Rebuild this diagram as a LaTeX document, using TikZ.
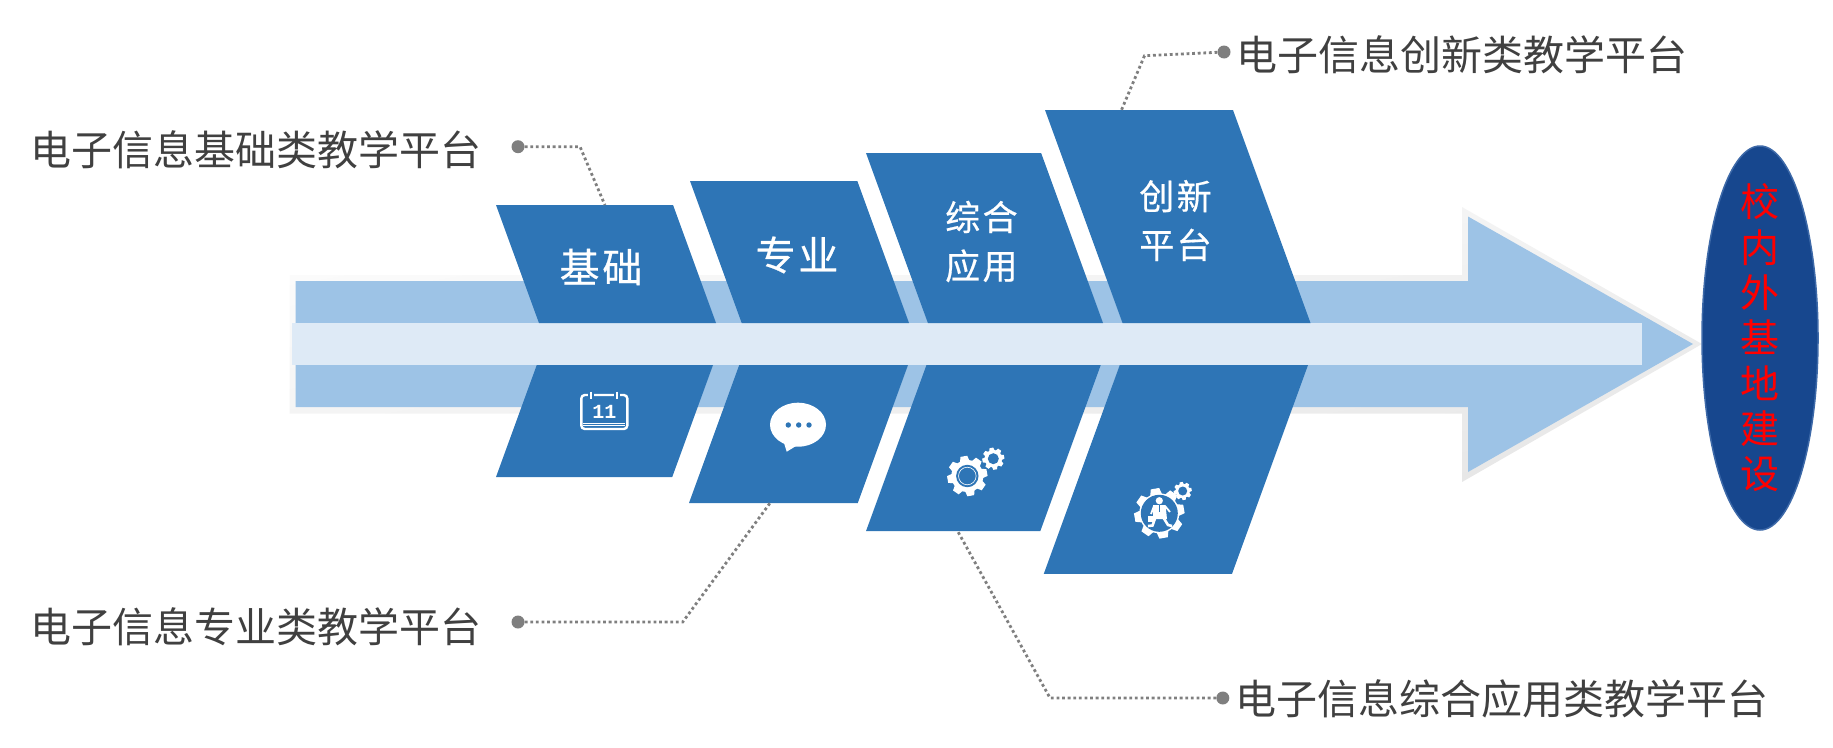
\documentclass[tikz,border=0pt]{standalone}
\usepackage{fontspec}
\setmainfont{Noto Sans CJK SC}
\newfontfamily\blockfont[LetterSpace=7,FakeBold=0.5]{Noto Sans CJK SC}
\newfontfamily\calfont{Liberation Mono}
\usepackage{tikz}
\usetikzlibrary{shapes, shapes.geometric, calc}
\definecolor{blockblue}{HTML}{2E75B6}
\definecolor{arrowblue}{HTML}{9DC3E6}
\definecolor{bandblue}{HTML}{DEEAF6}
\definecolor{ovalblue}{HTML}{17478E}
\definecolor{ovaledge}{HTML}{3D69A8}
\definecolor{labelgray}{HTML}{404040}
\definecolor{leadergray}{HTML}{7F7F7F}
\tikzstyle{platform} = [text=labelgray, inner sep=0pt, font=\fontsize{41}{48}\selectfont]
\tikzstyle{line} = [draw=leadergray, line width=2.8pt, dash pattern=on 2.8pt off 2.8pt]
\tikzstyle{leaderdot} = [circle, fill=leadergray, minimum size=13pt, inner sep=0pt]
\newcommand{\gearicon}[3]{
    \begin{scope}[shift={(#1)}, x=#2pt, y=#2pt]
        \fill[white] (0,0) circle (0.8);
        \foreach \a in {0,45,...,315}
            \fill[white, rotate=\a+10] (-0.25,0.7) -- (-0.17,1) -- (0.17,1) -- (0.25,0.7) -- cycle;
        \fill[blockblue] (0,0) circle (#3);
    \end{scope}
}
\begin{document}
\begin{tikzpicture}[x=1pt, y=-1pt,
    upblock/.style 2 args={inner sep=0pt, outer sep=0pt, minimum width=#1pt, minimum height=#2pt,
        path picture={\fill[blockblue] (path picture bounding box.north west) --
            ([xshift=-0.364*#2pt]path picture bounding box.north east) --
            (path picture bounding box.south east) --
            ([xshift=0.364*#2pt]path picture bounding box.south west) -- cycle;}},
    lowblock/.style 2 args={inner sep=0pt, outer sep=0pt, minimum width=#1pt, minimum height=#2pt,
        path picture={\fill[blockblue] ([xshift=0.364*#2pt]path picture bounding box.north west) --
            (path picture bounding box.north east) --
            ([xshift=-0.364*#2pt]path picture bounding box.south east) --
            (path picture bounding box.south west) -- cycle;}},
    bigtext/.style={text=white, align=center, inner sep=0pt, font=\blockfont\fontsize{40}{48}\selectfont},
    smalltext/.style={text=white, align=center, inner sep=0pt, font=\blockfont\fontsize{35}{48.7}\selectfont}
    ]
    \useasboundingbox (0,0) rectangle (1833,747);

    \path[top color=gray!2, bottom color=gray!19, shading angle=10] (289.5,275) -- (1462,275) -- (1462,207) --
          (1702,344) -- (1462,482) -- (1462,413.5) -- (289.5,413.5) -- cycle;
    \fill[arrowblue] (295.5,281) -- (1468,281) -- (1468,216.5) -- (1693,344) --
          (1468,472) -- (1468,407) -- (295.5,407) -- cycle;
    \fill[bandblue] (292,323) rectangle (1642,365);

    \node[upblock={220}{118}] (baseup) at (606,264) {};
    \node[upblock={219}{142}] (majorup) at (799.5,252) {};
    \node[upblock={237}{170}] (applyup) at (984.5,238) {};
    \node[upblock={265.5}{213}] (innovup) at (1177.75,216.5) {};
    \node[bigtext] (basetext) at (601,267) {基础};
    \node[bigtext] (majortext) at (797,255) {专业};
    \node[smalltext] (applytext) at (981.4,241.5) {综合\\应用};
    \node[smalltext] (innovtext) at (1175.5,220.5) {创新\\平台};

    \node[lowblock={217}{112}] (baselow) at (604.5,421) {};
    \node[lowblock={219}{138}] (majorlow) at (798.5,434) {};
    \node[lowblock={234.7}{166}] (applylow) at (983.4,448) {};
    \node[lowblock={264.2}{208.7}] (innovlow) at (1175.9,469.4) {};

    \node[draw=white, line width=2.4pt, rounded corners=3.5pt, minimum width=46pt, minimum height=34pt,
          inner sep=0pt, text=white, font=\calfont\bfseries\fontsize{20}{20}\selectfont] (calendar) at (604.3,412) {11};
    \fill[blockblue] (587.5,391) rectangle (594,397);
    \fill[blockblue] (613.5,391) rectangle (620,397);
    \draw[white, line width=1.8pt] (590.7,391.5) -- (590.7,399);
    \draw[white, line width=1.8pt] (616.7,391.5) -- (616.7,399);
    \draw[white, line width=0.8pt] (583,423.3) -- (625,423.3);
    \draw[white, line width=0.8pt] (583,425.4) -- (625,425.4);

    \fill[white] (798,424.7) ellipse (28 and 22);
    \fill[white] (784,443) -- (786.7,451.7) -- (796,446) -- cycle;
    \foreach \x in {788.3,798.7,809}
        \fill[blockblue] (\x,425) circle (2.7);

    \gearicon{967.3,476}{20}{0.56}
    \draw[white, line width=0.6pt] (967.3,476) circle (8.8);
    \gearicon{993.3,458.7}{11}{0.5}

    \gearicon{1159.3,513.3}{25}{0.74}
    \gearicon{1182.7,491}{9}{0.5}
    \fill[white] (1159.3,500.7) circle (3.6);
    \fill[white] (1153,505) -- (1165.5,505) -- (1167,519) -- (1153,519) -- cycle;
    \draw[white, line width=2.6pt] (1155.5,517) -- (1152.5,525.5) -- (1148,526);
    \draw[white, line width=2.6pt] (1163,517) -- (1168,525) -- (1172,526);
    \draw[white, line width=1.8pt] (1154,506) -- (1151,514);
    \draw[white, line width=1.8pt] (1165,506) -- (1170,512);
    \fill[white] (1147.5,515.5) rectangle (1154,522);
    \draw[blockblue, line width=0.8pt] (1159.5,505) -- (1159.5,512);

    \node[ellipse, draw=ovaledge, line width=1.5pt, fill=ovalblue, minimum width=116pt, minimum height=384pt,
          inner sep=0pt] (campus) at (1760,338) {};
    \node[text=red, align=center, inner sep=0pt, font=\fontsize{39}{45.3}\selectfont] (campustext) at (campus.center)
          {校\\内\\外\\基\\地\\建\\设};

    \node[leaderdot] (dotbase) at (518,146.7) {};
    \node[leaderdot] (dotmajor) at (518,622) {};
    \node[leaderdot] (dotapply) at (1222.8,698) {};
    \node[leaderdot] (dotinnov) at (1224,52) {};
    \coordinate (kneebase) at (580,146.7);
    \coordinate (kneemajor) at (682.7,622);
    \coordinate (kneeapply) at (1050,698);
    \coordinate (kneeinnov) at (1144.5,55.7);

    \node[platform] (textbase) at (256.2,150) {电子信息基础类教学平台};
    \node[platform] (textmajor) at (256.2,626.5) {电子信息专业类教学平台};
    \node[platform] (textapply) at (1501.5,699) {电子信息综合应用类教学平台};
    \node[platform] (textinnov) at (1461.5,55) {电子信息创新类教学平台};

    \draw[line] (dotbase) -- (kneebase) -- ($(baseup.north west)!0.495!(baseup.north east)$);
    \draw[line] (dotmajor) -- (kneemajor) -- ($(majorlow.south west)!0.37!(majorlow.south east)$);
    \draw[line] (dotapply) -- (kneeapply) -- ($(applylow.south west)!0.39!(applylow.south east)$);
    \draw[line] (dotinnov) -- (kneeinnov) -- ($(innovup.north west)!0.288!(innovup.north east)$);
\end{tikzpicture}
\end{document}
